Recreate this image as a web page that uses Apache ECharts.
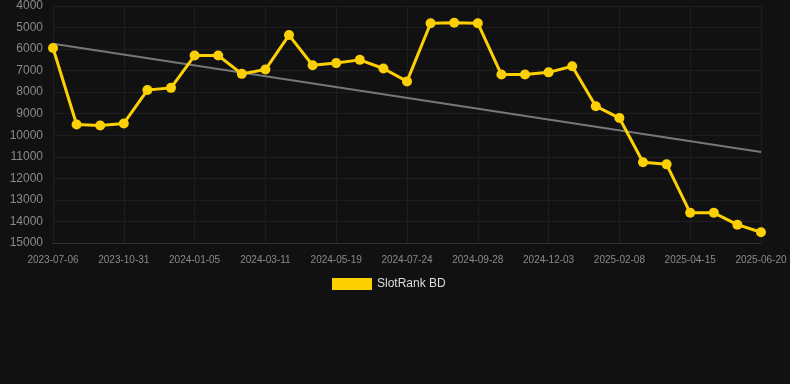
<!DOCTYPE html>
<html>
<head>
<meta charset="utf-8">
<script src="https://cdn.jsdelivr.net/npm/echarts@6/dist/echarts.min.js"></script>
<style>
html,body{margin:0;padding:0;background:#111111;}
#c{width:790px;height:384px;}
</style>
</head>
<body>
<div id="c"></div>
<script>
const categories = [
  '2023-07-06','2023-08-14','2023-09-22','2023-10-31','2023-11-22','2023-12-14',
  '2024-01-05','2024-01-27','2024-02-18','2024-03-11','2024-04-04','2024-04-26',
  '2024-05-19','2024-06-10','2024-07-02','2024-07-24','2024-08-15','2024-09-06',
  '2024-09-28','2024-10-20','2024-11-11','2024-12-03','2024-12-25','2025-01-17',
  '2025-02-08','2025-03-02','2025-03-24','2025-04-15','2025-05-07','2025-05-29',
  '2025-06-20'
];
const rankValues = [
  5950, 9500, 9550, 9450, 7900, 7800, 6300, 6300, 7150, 6950, 5350,
  6750, 6650, 6500, 6900, 7500, 4800, 4780, 4800, 7180, 7180, 7080,
  6800, 8650, 9200, 11250, 11350, 13600, 13600, 14150, 14500
];
const trendStart = 5750;
const trendEnd = 10775;
const yTicks = { min: 4000, max: 15000, interval: 1000 };

const trendValues = categories.map((c, i) =>
  i === 0 ? trendStart : (i === categories.length - 1 ? trendEnd : null));

const chart = echarts.init(document.getElementById('c'), null, { renderer: 'canvas' });
chart.setOption({
  backgroundColor: '#111111',
  animation: false,
  grid: { left: 53, right: 29, top: 6, bottom: 141, containLabel: false },
  legend: {
    data: [{ name: 'SlotRank BD', icon: 'rect' }],
    top: 273,
    left: 327,
    itemWidth: 40,
    itemHeight: 12,
    itemGap: 10,
    textStyle: { color: '#dddddd', fontSize: 12, fontFamily: 'Liberation Sans, Arial, sans-serif' }
  },
  xAxis: {
    type: 'category',
    data: categories,
    boundaryGap: false,
    axisLine: { show: true, lineStyle: { color: '#333333' } },
    axisTick: { show: false },
    axisLabel: {
      interval: 2,
      color: '#8a8a8a',
      fontSize: 10,
      margin: 12,
      fontFamily: 'Liberation Sans, Arial, sans-serif'
    },
    splitLine: { show: true, interval: 2, lineStyle: { color: '#1e1e1e', width: 1 } }
  },
  yAxis: {
    type: 'value',
    inverse: true,
    min: yTicks.min,
    max: yTicks.max,
    interval: yTicks.interval,
    axisLine: { show: false },
    axisTick: { show: false },
    axisLabel: {
      color: '#8a8a8a',
      fontSize: 12,
      margin: 10,
      formatter: v => String(v),
      fontFamily: 'Liberation Sans, Arial, sans-serif'
    },
    splitLine: { show: true, lineStyle: { color: '#1e1e1e', width: 1 } }
  },
  series: [
    {
      name: 'SlotRank BD',
      type: 'line',
      data: rankValues,
      symbol: 'circle',
      symbolSize: 10,
      itemStyle: { color: '#FFD000' },
      lineStyle: { color: '#FFD000', width: 3 },
      z: 3
    },
    {
      name: 'trend',
      type: 'line',
      data: trendValues,
      connectNulls: true,
      symbol: 'none',
      lineStyle: { color: '#777777', width: 2 },
      z: 2,
      silent: true
    }
  ]
});
</script>
</body>
</html>
